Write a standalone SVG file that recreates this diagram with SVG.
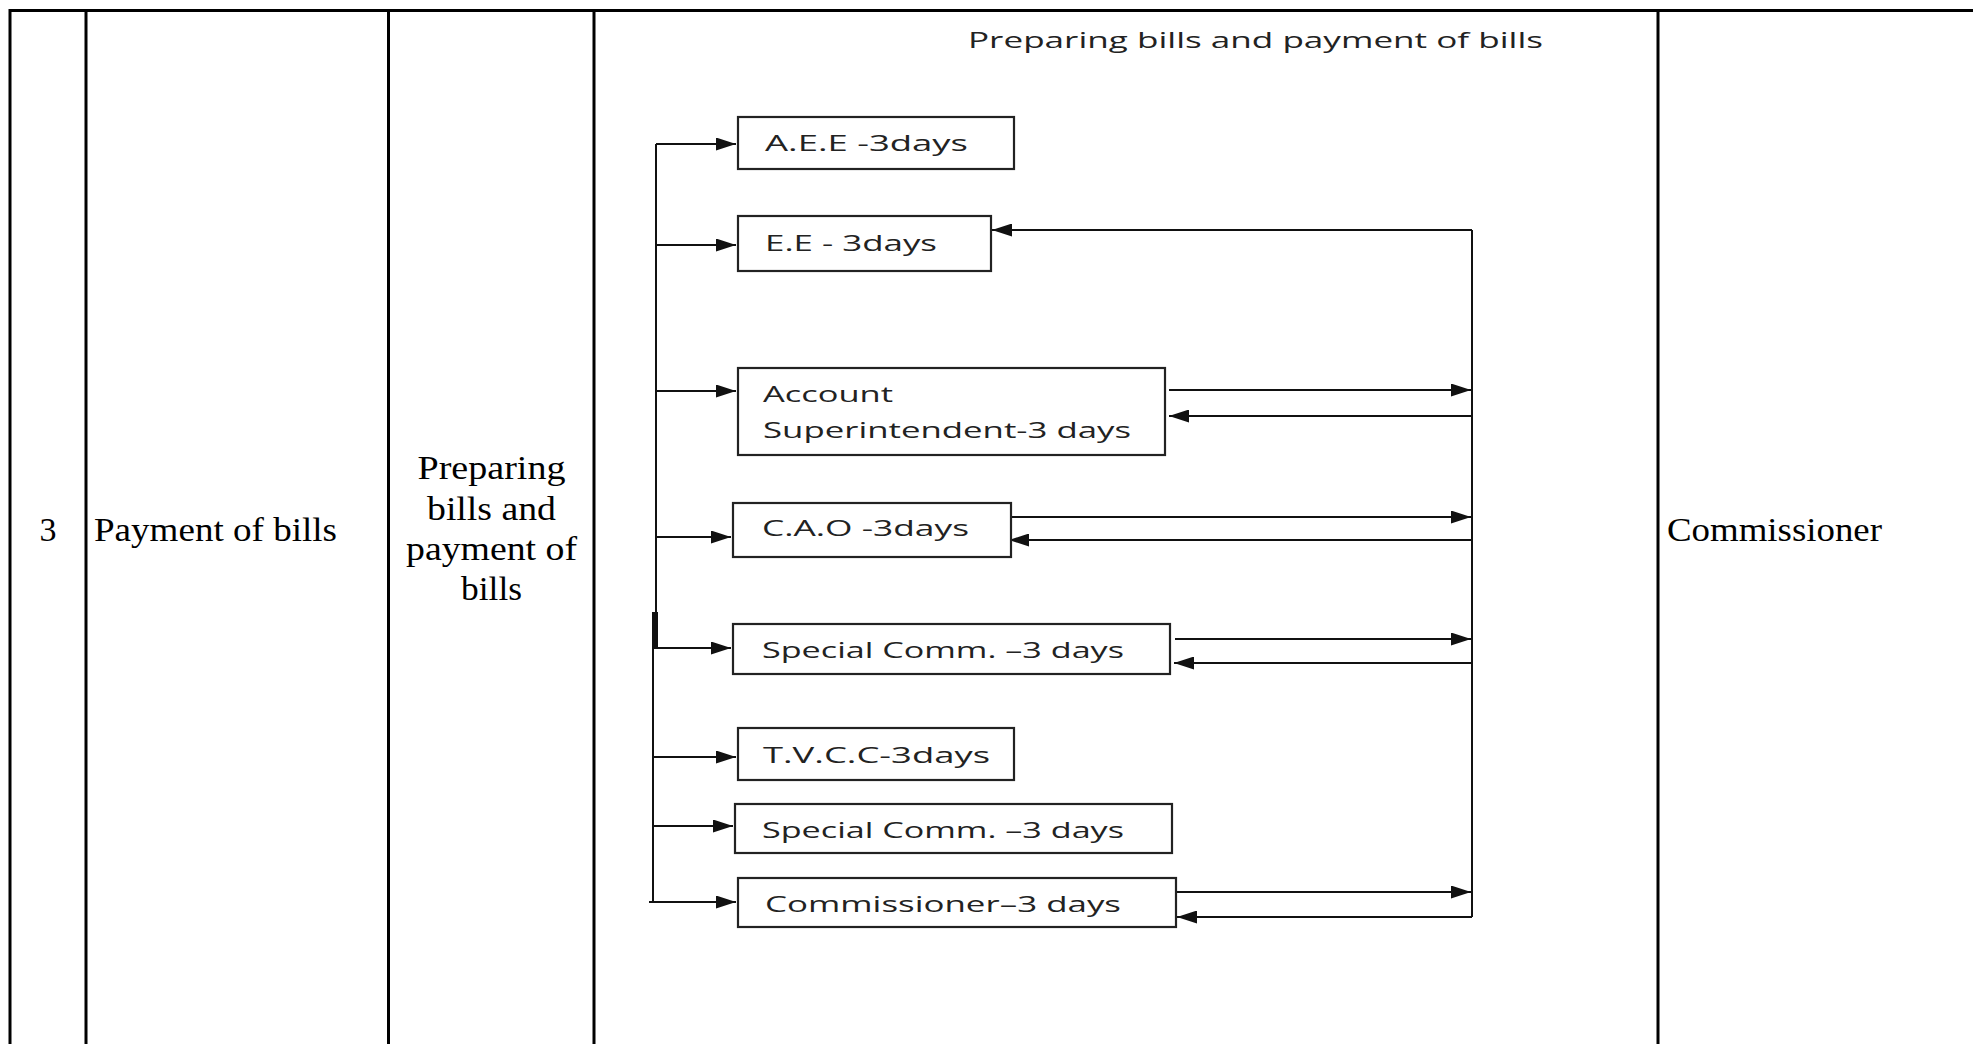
<svg xmlns="http://www.w3.org/2000/svg" width="1973" height="1044" viewBox="0 0 1973 1044">
<defs>
<marker id="arr" viewBox="0 0 20 13" refX="20" refY="6.5" markerWidth="20" markerHeight="13" markerUnits="userSpaceOnUse" orient="auto">
<path d="M0,0 L20,6.5 L0,13 z" fill="#111"/>
</marker>
<style>
.grid{stroke:#000;stroke-width:3;fill:none}
.cell{font-family:"Liberation Serif","Times New Roman",serif;font-size:34px;fill:#000}
.box{fill:#fff;stroke:#222;stroke-width:2.2}
.lbl{font-family:"Open Sans","DejaVu Sans",sans-serif;font-size:22px;fill:#222}
.title{font-family:"Open Sans","DejaVu Sans",sans-serif;font-size:22px;fill:#222}
.con{stroke:#111;stroke-width:2;fill:none}
.arw{stroke:#111;stroke-width:2;fill:none;marker-end:url(#arr)}
</style>
</defs>
<rect width="1973" height="1044" fill="#fff"/>

<g id="table">
<path class="grid" d="M8.5,10.5 H1973 M10,9 V1044 M86,9 V1044 M388.5,9 V1044 M594,9 V1044 M1658,9 V1044"/>
<text class="cell" x="48" y="541" text-anchor="middle">3</text>
<text class="cell" x="94" y="541" textLength="243" lengthAdjust="spacingAndGlyphs">Payment of bills</text>
<text class="cell" x="491.5" y="479" text-anchor="middle" textLength="148" lengthAdjust="spacingAndGlyphs">Preparing</text>
<text class="cell" x="491.5" y="520" text-anchor="middle" textLength="129" lengthAdjust="spacingAndGlyphs">bills and</text>
<text class="cell" x="491.5" y="560" text-anchor="middle" textLength="171" lengthAdjust="spacingAndGlyphs">payment of</text>
<text class="cell" x="491.5" y="600" text-anchor="middle" textLength="61" lengthAdjust="spacingAndGlyphs">bills</text>
<text class="cell" x="1667" y="541" textLength="215" lengthAdjust="spacingAndGlyphs">Commissioner</text>
</g>

<g id="flow-title">
<text class="title" x="968" y="48" textLength="575" lengthAdjust="spacingAndGlyphs">Preparing bills and payment of bills</text>
</g>

<g id="connectors">
<path class="con" d="M656,144 V648 M653,612 V902 M649,902 H656"/>
<path d="M656,612 V648" stroke="#111" stroke-width="4"/>
<path class="arw" d="M656,144 H736"/>
<path class="arw" d="M656,245 H736"/>
<path class="arw" d="M656,391 H736"/>
<path class="arw" d="M656,537 H731"/>
<path class="arw" d="M653,648 H731"/>
<path class="arw" d="M654,757 H736"/>
<path class="arw" d="M654,826 H733"/>
<path class="arw" d="M649,902 H736"/>
<path class="con" d="M1472,230 V917"/>
<path class="arw" d="M1472,230 H992"/>
<path class="arw" d="M1169,390 H1471"/>
<path class="arw" d="M1472,416 H1169"/>
<path class="arw" d="M1012,517 H1471"/>
<path class="arw" d="M1472,540 H1009"/>
<path class="arw" d="M1175,639 H1471"/>
<path class="arw" d="M1472,663 H1174"/>
<path class="arw" d="M1176,892 H1471"/>
<path class="arw" d="M1472,917 H1177"/>
</g>

<g id="node-aee">
<rect class="box" x="738" y="117" width="276" height="52"/>
<text class="lbl" x="765" y="151" textLength="203" lengthAdjust="spacingAndGlyphs">A.E.E -3days</text>
</g>
<g id="node-ee">
<rect class="box" x="738" y="216" width="253" height="55"/>
<text class="lbl" x="765" y="251" textLength="172" lengthAdjust="spacingAndGlyphs">E.E - 3days</text>
</g>
<g id="node-account">
<rect class="box" x="738" y="368" width="427" height="87"/>
<text class="lbl" x="763" y="402" textLength="130" lengthAdjust="spacingAndGlyphs">Account</text>
<text class="lbl" x="763" y="438" textLength="368" lengthAdjust="spacingAndGlyphs">Superintendent-3 days</text>
</g>
<g id="node-cao">
<rect class="box" x="733" y="503" width="278" height="54"/>
<text class="lbl" x="762" y="536" textLength="207" lengthAdjust="spacingAndGlyphs">C.A.O -3days</text>
</g>
<g id="node-special1">
<rect class="box" x="733" y="624" width="437" height="50"/>
<text class="lbl" x="762" y="658" textLength="362" lengthAdjust="spacingAndGlyphs">Special Comm. –3 days</text>
</g>
<g id="node-tvcc">
<rect class="box" x="738" y="728" width="276" height="52"/>
<text class="lbl" x="763" y="763" textLength="227" lengthAdjust="spacingAndGlyphs">T.V.C.C-3days</text>
</g>
<g id="node-special2">
<rect class="box" x="735" y="804" width="437" height="49"/>
<text class="lbl" x="762" y="838" textLength="362" lengthAdjust="spacingAndGlyphs">Special Comm. –3 days</text>
</g>
<g id="node-commissioner">
<rect class="box" x="738" y="878" width="438" height="49"/>
<text class="lbl" x="765" y="912" textLength="356" lengthAdjust="spacingAndGlyphs">Commissioner–3 days</text>
</g>
</svg>
